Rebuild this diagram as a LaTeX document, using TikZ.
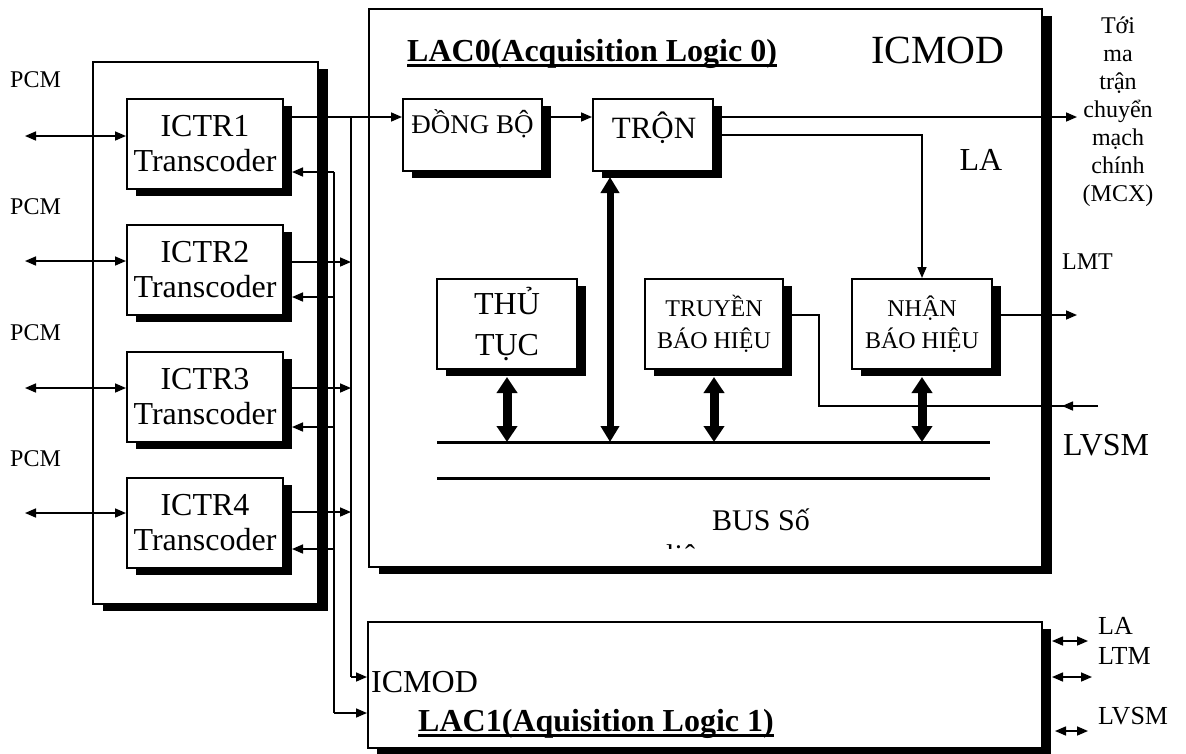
\documentclass[tikz,border=0pt]{standalone}
\usepackage{fontspec}
\setmainfont{Liberation Serif}
\usetikzlibrary{arrows.meta,shadows}
\newcommand\fsz[2]{\fontsize{#1pt}{#2pt}\selectfont}
\begin{document}
\begin{tikzpicture}[x=1pt,y=-1pt]
\tikzset{
  sbox/.style={draw, line width=2pt, fill=white, inner sep=0pt, align=center,
     drop shadow={shadow xshift=#1, shadow yshift=-7pt, fill=black, opacity=1}},
  sbox/.default=9pt,
  lbl/.style={inner sep=0pt},
  ln/.style={line width=1.6pt},
  arr/.style={ln, -{Triangle[width=9pt,length=11pt]}},
  darr/.style={ln, {Triangle[width=9pt,length=11pt]}-{Triangle[width=9pt,length=11pt]}},
  fat/.style={line width=9pt, {Triangle[width=20pt,length=16pt]}-{Triangle[width=20pt,length=16pt]}},
  fatb/.style={line width=7pt, {Triangle[width=18pt,length=16pt]}-{Triangle[width=18pt,length=16pt]}},
  big/.style={font=\fsz{32}{35}},
  small/.style={font=\fsz{24}{28}},
}
\useasboundingbox (0,0) rectangle (1186,753);

% ---------- transcoder group ----------
\node[sbox=10pt, minimum width=225pt, minimum height=542pt] (grp) at (205.5,333) {};
\node[sbox, big, minimum width=156pt, minimum height=90pt] (ictr1) at (205,144) {ICTR1\\Transcoder};
\node[sbox, big, minimum width=156pt, minimum height=90pt] (ictr2) at (205,269.5) {ICTR2\\Transcoder};
\node[sbox, big, minimum width=156pt, minimum height=90pt] (ictr3) at (205,397) {ICTR3\\Transcoder};
\node[sbox, big, minimum width=156pt, minimum height=90pt] (ictr4) at (205,523) {ICTR4\\Transcoder};

\node[lbl, small, anchor=west] (pcm1) at (10,80) {PCM};
\node[lbl, small, anchor=west] (pcm2) at (10,207) {PCM};
\node[lbl, small, anchor=west] (pcm3) at (10,333) {PCM};
\node[lbl, small, anchor=west] (pcm4) at (10,459) {PCM};

% ---------- LAC0 ----------
\node[sbox=10pt, minimum width=673pt, minimum height=558pt] (lac0) at (705.5,288) {};
\node[lbl, font=\fsz{32}{35}\bfseries, anchor=base west] (t0) at (407,61) {LAC0(Acquisition Logic 0)};
\draw[line width=3pt] ([yshift=-4.5pt]t0.base west) -- ([yshift=-4.5pt]t0.base east);
\node[lbl, font=\fsz{40}{44}] (icmod0) at (938,50) {ICMOD};
\node[lbl, big] (la0) at (981,160) {LA};

\node[sbox, minimum width=139pt, minimum height=72pt] (dongbo) at (472.5,135) {};
\node[lbl, font=\fsz{27}{30}] (dongbot) at (472.5,124) {ĐỒNG BỘ};
\node[sbox, minimum width=120pt, minimum height=72pt] (tron) at (653,135) {};
\node[lbl, font=\fsz{31}{34}] (tront) at (654,128) {TRỘN};

\node[sbox, font=\fsz{32}{41}, minimum width=140pt, minimum height=90pt] (thutuc) at (507,324) {THỦ\\TỤC};
\node[sbox, font=\fsz{24}{32}, minimum width=138pt, minimum height=90pt] (truyen) at (714,324) {TRUYỀN\\BÁO HIỆU};
\node[sbox, font=\fsz{24}{32}, minimum width=140pt, minimum height=90pt] (nhan) at (922,324) {NHẬN\\BÁO HIỆU};

% bus
\coordinate (b1l) at (437,442); \coordinate (b1r) at (990,442);
\coordinate (b2l) at (437,478); \coordinate (b2r) at (990,478);
\draw[line width=3pt] (b1l) -- (b1r);
\draw[line width=3pt] (b2l) -- (b2r);
\node[lbl, font=\fsz{30}{33}] (bus) at (761,520) {BUS Số};
\begin{scope}
  \clip (600,530) rectangle (760,548);
  \node[lbl, font=\fsz{30}{33}, anchor=base west] (lieu) at (666,565) {liệu};
\end{scope}

% thick arrows to bus
\draw[fat] ([yshift=-7pt]thutuc.south) -- (thutuc.south |- b1l);
\draw[fat] ([yshift=-7pt]truyen.south) -- (truyen.south |- b1l);
\draw[fat] ([yshift=-7pt]nhan.south) -- (nhan.south |- b1l);
\coordinate (tu) at (610,177); \coordinate (tb) at (610,442);
\draw[fatb] (tu) -- (tb);

% internal connections
\coordinate (o1) at (283,117); \coordinate (j1) at (351,117);
\draw[arr] (o1) -- (dongbo.west |- o1);
\coordinate (d1) at (542,117);
\draw[arr] (d1) -- (tron.west |- d1);
\coordinate (m1) at (713,117); \coordinate (mcx) at (1077,117);
\draw[arr] (m1) -- (mcx);
\coordinate (m2) at (713,135); \coordinate (m2c) at (922,135);
\draw[arr] (m2) -- (m2c) -- (nhan.north);
\coordinate (lmt) at (1077,315);
\draw[arr] (nhan.east |- lmt) -- (lmt);
\coordinate (tr2) at (819,315); \coordinate (tr3) at (819,406);
\coordinate (lvs) at (1098,406); \coordinate (lvst) at (1062,406);
\draw[ln] (truyen.east |- tr2) -- (tr2) -- (tr3) -- (lvs);
\draw[arr] (lvs) -- (lvst);

\node[lbl, small, anchor=west] (lmtl) at (1062,262) {LMT};
\node[lbl, big, anchor=west] (lvsml) at (1063,445) {LVSM};
\node[small, align=center, inner sep=0pt] (mcxl) at (1118,112) {Tới\\ma\\trận\\chuyển\\mạch\\chính\\(MCX)};

% ---------- LAC1 ----------
\node[sbox=9pt, minimum width=674pt, minimum height=126pt] (lac1) at (705,685) {};
\node[lbl, big, anchor=west] (icmod1) at (371,682) {ICMOD};
\node[lbl, font=\fsz{32}{35}\bfseries, anchor=base west] (t1) at (418,731) {LAC1(Aquisition Logic 1)};
\draw[line width=3pt] ([yshift=-4.5pt]t1.base west) -- ([yshift=-4.5pt]t1.base east);

\coordinate (ra1) at (1052,641); \coordinate (rb1) at (1088,641);
\coordinate (ra2) at (1052,677); \coordinate (rb2) at (1092,677);
\coordinate (ra3) at (1055,731); \coordinate (rb3) at (1088,731);
\draw[darr] (ra1) -- (rb1);
\draw[darr] (ra2) -- (rb2);
\draw[darr] (ra3) -- (rb3);
\node[lbl, font=\fsz{26}{28}, anchor=west] (la1) at (1098,626) {LA};
\node[lbl, font=\fsz{26}{28}, anchor=west] (ltm1) at (1098,656) {LTM};
\node[lbl, font=\fsz{26}{28}, anchor=west] (lvsm1) at (1098,716) {LVSM};

% ---------- transcoder wiring ----------
\coordinate (jb) at (351,677);
\coordinate (r1) at (334,172); \coordinate (rb) at (334,713);
\draw[ln] (j1) -- (jb);
\draw[arr] (jb) -- (lac1.west |- jb);
\draw[ln] (r1) -- (rb);
\draw[arr] (rb) -- (lac1.west |- rb);
\coordinate (e1) at (292,172);
\draw[arr] (r1) -- (e1);

\coordinate (o2) at (283,262); \coordinate (k2) at (351,262);
\coordinate (q2) at (334,297); \coordinate (e2) at (292,297);
\draw[arr] (o2) -- (k2); \draw[arr] (q2) -- (e2);
\coordinate (o3) at (283,388); \coordinate (k3) at (351,388);
\coordinate (q3) at (334,427); \coordinate (e3) at (292,427);
\draw[arr] (o3) -- (k3); \draw[arr] (q3) -- (e3);
\coordinate (o4) at (283,512); \coordinate (k4) at (351,512);
\coordinate (q4) at (334,549); \coordinate (e4) at (292,549);
\draw[arr] (o4) -- (k4); \draw[arr] (q4) -- (e4);

% PCM double arrows
\coordinate (p1) at (25,136); \coordinate (p2) at (25,261);
\coordinate (p3) at (25,388); \coordinate (p4) at (25,513);
\draw[darr] (p1) -- (ictr1.west |- p1);
\draw[darr] (p2) -- (ictr2.west |- p2);
\draw[darr] (p3) -- (ictr3.west |- p3);
\draw[darr] (p4) -- (ictr4.west |- p4);
\end{tikzpicture}
\end{document}
